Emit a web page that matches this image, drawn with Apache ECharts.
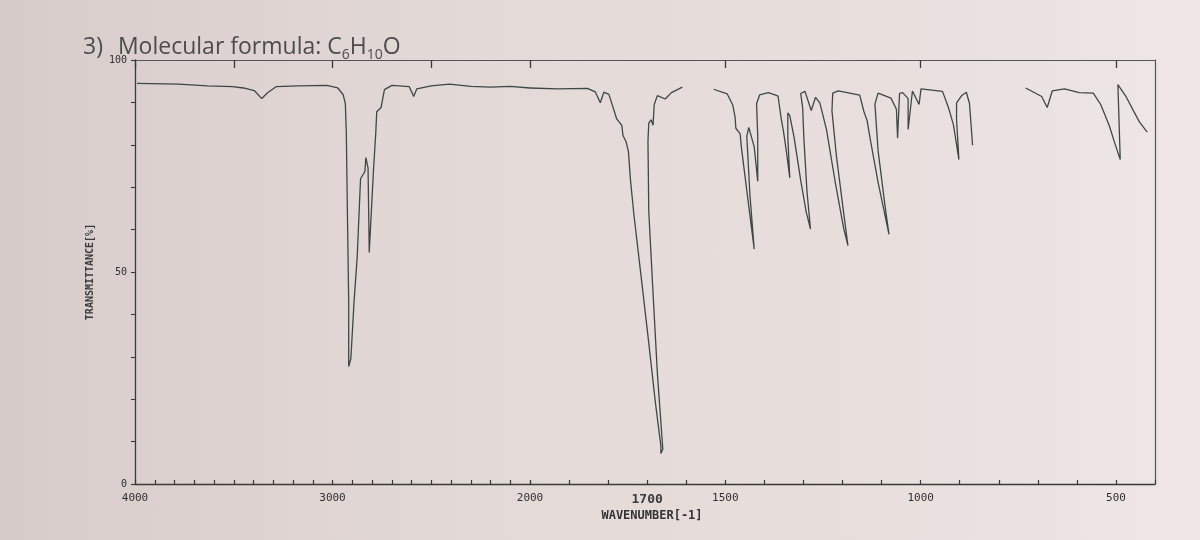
<!DOCTYPE html>
<html>
<head>
<meta charset="utf-8">
<script src="https://cdn.jsdelivr.net/npm/echarts@6/dist/echarts.min.js"></script>
<style>
  html, body { margin: 0; padding: 0; }
  body { width: 1200px; height: 540px; background: linear-gradient(90deg, #d8ccca 0%, #e2d8d6 35%, #e9e0de 75%, #eee7e5 100%); }
  #chart { width: 1200px; height: 540px; }
</style>
</head>
<body>
<div id="chart"></div>
<script>
// High wavenumber segment (4000-2000 cm-1), transmittance %
const wnHigh = [3990,3780,3632,3506,3451,3396,3358,3330,3286,3176,3028,2973,2946,2935,2930,2924,2918,2918,2907,2891,2875,2858,2836,2831,2820,2814,2809,2803,2792,2781,2776,2754,2737,2699,2611,2589,2573,2501,2408,2300,2200,2100,2000];
const tHigh  = [94.5,94.3,93.9,93.7,93.4,92.8,90.9,92.2,93.7,93.9,94.0,93.4,91.8,89.7,82.8,62.2,42.9,27.7,29.6,42.9,53.5,72.0,73.7,77.0,74.5,54.6,55.0,64.6,74.4,82.7,87.8,88.8,93.0,94.0,93.7,91.4,93.2,93.9,94.3,93.8,93.6,93.8,93.4];

// Low wavenumber segment (2000-400 cm-1); '-' marks gaps in the trace
const wnLow = [2000,1930,1853,1833,1820,1811,1798,1789,1778,1765,1762,1754,1748,1743,1734,1715,1696,1679,1665,1665,1660,1674,1687,1696,1698,1696,1690,1685,1682,1674,1654,1638,1610,1570,1530,1495,1481,1475,1473,1462,1459,1442,1426,1437,1445,1440,1426,1417,1417,1420,1412,1390,1371,1365,1357,1351,1343,1335,1340,1340,1335,1324,1307,1293,1282,1291,1299,1302,1307,1296,1280,1269,1258,1241,1219,1197,1186,1197,1216,1227,1225,1211,1156,1145,1137,1128,1109,1092,1081,1092,1109,1117,1109,1076,1062,1059,1054,1046,1032,1032,1021,1004,999,944,930,924,916,902,908,908,894,883,875,867,800,731,690,676,663,632,594,558,539,517,503,489,495,475,455,440,420];
const tLow  = [93.4,93.2,93.3,92.5,89.9,92.4,91.9,89.3,86.1,84.6,82.2,80.7,78.4,71.9,63.5,48.5,33.3,19.2,9.0,7.2,8.2,26.2,48.5,64.4,80.8,85.1,85.9,84.6,89.5,91.6,90.8,92.3,93.6,'-',93.1,92.0,89.4,86.5,83.9,82.6,79.5,67.0,55.4,68.2,82.0,84.1,79.5,71.4,82.0,89.7,91.8,92.3,91.7,91.5,86.2,83.1,78.0,72.2,81.8,87.5,86.9,81.8,71.6,64.2,60.1,69.1,81.7,88.7,92.1,92.6,88.1,91.2,89.9,83.6,71.4,60.3,56.2,63.9,77.7,88.0,92.2,92.7,91.7,87.8,85.7,80.8,71.2,63.7,58.9,66.2,78.7,89.6,92.2,91.0,88.4,81.6,92.1,92.3,90.9,83.6,92.7,89.5,93.2,92.6,89.1,87.3,84.7,76.5,85.9,89.9,91.7,92.4,89.8,79.9,'-',93.4,91.4,88.8,92.7,93.2,92.3,92.2,89.5,84.5,80.4,76.5,94.2,91.5,88.0,85.4,83.0];

// Tick labels
const xLabelsHigh = [4000, 3000];
const xLabelsLow = [2000, 1700, 1500, 1000, 500];
const xMajorHigh = [4000, 3500, 3000, 2500];
const xMajorLow = [2000, 1500, 1000, 500];
const yLabels = [0, 50, 100];

const titleText = '{n|3)}   {n|Molecular formula: C}{s|6}{n|H}{s|10}{n|O}';
const xName = 'WAVENUMBER[-1]';
const yName = 'TRANSMITTANCE[%]';

const ink = '#3e4843';
const axisInk = '#3a3a3a';
const mono = '"DejaVu Sans Mono", monospace';

const dataHigh = wnHigh.map((w, i) => [w, tHigh[i]]);
const dataLow = wnLow.map((w, i) => [w, tLow[i]]);

const G0 = { left: 135, top: 60, width: 395, height: 424 };
const G1 = { left: 530, top: 60, width: 625, height: 424 };

function mainX(grid, min, max, labels) {
  return {
    type: 'value', gridIndex: grid, min: min, max: max, interval: 100, inverse: true,
    axisLine: { show: true, onZero: false, lineStyle: { color: axisInk, width: 1.3 } },
    axisTick: { show: true, inside: true, length: 4, lineStyle: { color: axisInk, width: 1.2 } },
    axisLabel: {
      show: true, customValues: labels, margin: 9, color: '#303030',
      fontFamily: mono, fontSize: 11,
      formatter: v => v === 1700 ? '{h|' + v + '}' : String(v),
      rich: { h: { fontFamily: mono, fontSize: 13, fontWeight: 'bold', color: '#3a3a3a' } }
    },
    splitLine: { show: false }
  };
}
function majorX(grid, min, max, ticks) {
  return {
    type: 'value', gridIndex: grid, min: min, max: max, interval: 100, inverse: true,
    axisLine: { show: false, onZero: false },
    axisTick: { show: true, inside: true, length: 8, customValues: ticks, lineStyle: { color: axisInk, width: 1.3 } },
    axisLabel: { show: false }, splitLine: { show: false }
  };
}
function topX(grid, min, max) {
  return {
    type: 'value', gridIndex: grid, min: min, max: max, inverse: true, position: 'top',
    axisLine: { show: true, onZero: false, lineStyle: { color: '#555', width: 1.2 } },
    axisTick: { show: false }, axisLabel: { show: false }, splitLine: { show: false }
  };
}

const chart = echarts.init(document.getElementById('chart'), null, { renderer: 'canvas' });
chart.setOption({
  backgroundColor: 'transparent',
  animation: false,
  title: {
    text: titleText, left: 78, top: 28,
    textStyle: {
      fontWeight: 'normal',
      rich: {
        n: { fontFamily: '"Open Sans", sans-serif', fontSize: 23, fontWeight: 'normal', color: '#4c4c4c', lineHeight: 29 },
        s: { fontFamily: '"Open Sans", sans-serif', fontSize: 14, fontWeight: 'normal', color: '#4c4c4c', verticalAlign: 'bottom', lineHeight: 15 }
      }
    }
  },
  grid: [G0, G1],
  xAxis: [
    mainX(0, 2000, 4000, xLabelsHigh),
    mainX(1, 400, 2000, xLabelsLow),
    majorX(0, 2000, 4000, xMajorHigh),
    majorX(1, 400, 2000, xMajorLow),
    topX(0, 2000, 4000),
    topX(1, 400, 2000)
  ],
  yAxis: [
    {
      type: 'value', gridIndex: 0, min: 0, max: 100, interval: 10, position: 'left',
      name: yName, nameLocation: 'middle', nameGap: 40, nameRotate: 90,
      nameTextStyle: { fontFamily: mono, fontSize: 10, fontWeight: 'bold', color: '#3a3a3a' },
      axisLine: { show: true, lineStyle: { color: axisInk, width: 1.3 } },
      axisTick: { show: true, inside: false, length: 4, lineStyle: { color: axisInk, width: 1.1 } },
      axisLabel: { show: true, customValues: yLabels, margin: 8, fontFamily: mono, fontSize: 10, color: '#303030' },
      splitLine: { show: false }
    },
    {
      type: 'value', gridIndex: 1, min: 0, max: 100, position: 'right',
      axisLine: { show: true, lineStyle: { color: '#555', width: 1.2 } },
      axisTick: { show: false }, axisLabel: { show: false }, splitLine: { show: false }
    }
  ],
  graphic: [
    {
      type: 'text', x: 652, y: 516,
      style: { text: xName, fill: '#333', fontFamily: mono, fontSize: 12, fontWeight: 'bold', align: 'center', verticalAlign: 'middle' }
    }
  ],
  series: [
    {
      type: 'line', xAxisIndex: 0, yAxisIndex: 0, data: dataHigh,
      showSymbol: false, symbol: 'none', smooth: false, connectNulls: false,
      lineStyle: { color: ink, width: 1.3 }, silent: true
    },
    {
      type: 'line', xAxisIndex: 1, yAxisIndex: 1, data: dataLow,
      showSymbol: false, symbol: 'none', smooth: false, connectNulls: false,
      lineStyle: { color: ink, width: 1.3 }, silent: true
    }
  ]
});
</script>
</body>
</html>
